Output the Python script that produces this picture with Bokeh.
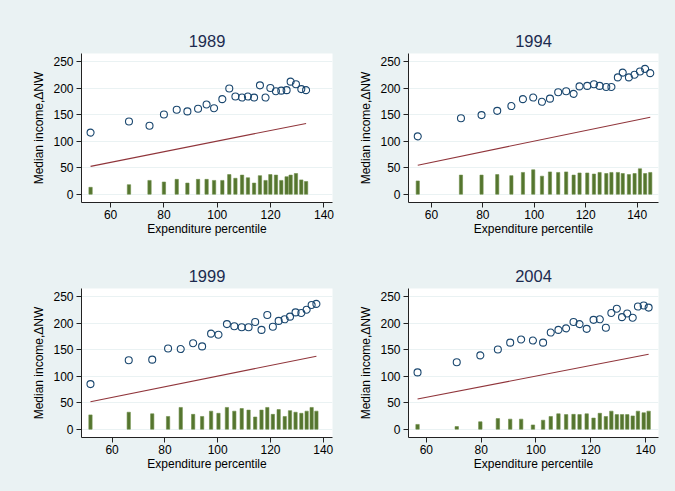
from bokeh.plotting import figure
from bokeh.layouts import gridplot
from bokeh.models import Range1d, FixedTicker
from bokeh.embed import file_html
from bokeh.resources import INLINE

# ---- data ----
years = ["1989", "1994", "1999", "2004"]

pct_1989 = [52.5, 66.9, 74.6, 80.0, 84.8, 88.8, 92.8, 96.0, 98.8, 101.9, 104.5, 106.8, 109.3,
            111.5, 113.8, 116.0, 118.1, 119.9, 122.0, 124.0, 126.0, 127.5, 129.5, 131.5, 133.3]
inc_1989 = [116, 137, 129, 150, 159, 156, 161, 169, 162, 179, 199, 184, 182,
            184, 182, 205, 182, 200, 194, 195, 196, 212, 207, 198, 196]
dnw_1989 = [13, 18, 26, 23, 28, 21, 28, 28, 26, 26, 37, 30, 36,
            31, 21, 35, 26, 37, 36, 26, 33, 36, 39, 27, 24]

pct_1994 = [54.7, 71.5, 79.5, 85.6, 91.1, 95.6, 99.6, 103.0, 106.1, 109.3, 112.4, 115.3, 117.6,
            120.6, 123.2, 125.4, 128.0, 130.0, 132.5, 134.4, 136.8, 139.0, 141.1, 143.1, 145.1]
inc_1994 = [109, 143, 149, 157, 166, 179, 182, 174, 180, 192, 194, 189, 203,
            204, 207, 204, 202, 202, 220, 229, 220, 225, 231, 236, 228]
dnw_1994 = [25, 36, 36, 37, 35, 41, 46, 34, 42, 41, 42, 36, 40,
            40, 38, 41, 39, 41, 41, 39, 37, 39, 48, 39, 41]

pct_1999 = [51.8, 66.3, 75.2, 81.2, 86.0, 90.7, 94.1, 97.5, 100.3, 103.5, 106.3, 109.1, 111.7,
            114.2, 116.6, 118.8, 120.9, 123.1, 125.4, 127.4, 129.5, 131.7, 133.7, 135.6, 137.4]
inc_1999 = [85, 130, 131, 152, 151, 162, 156, 180, 178, 198, 194, 192, 192,
            202, 187, 215, 193, 204, 207, 212, 220, 219, 225, 234, 236]
dnw_1999 = [27, 32, 29, 24, 41, 28, 24, 34, 30, 41, 34, 39, 36,
            23, 36, 41, 28, 37, 24, 35, 32, 30, 34, 41, 34]

pct_2004 = [56.8, 71.1, 79.7, 86.1, 90.6, 94.6, 98.9, 102.6, 105.4, 108.2, 111.0, 113.7, 115.9,
            118.5, 121.0, 123.3, 125.5, 127.5, 129.5, 131.4, 133.3, 135.3, 137.2, 139.3, 141.1]
inc_2004 = [107, 126, 139, 150, 163, 169, 167, 163, 182, 187, 190, 202, 198,
            189, 206, 207, 191, 219, 227, 211, 218, 210, 231, 233, 229]
dnw_2004 = [9, 5, 14, 20, 19, 19, 8, 17, 24, 29, 27.5, 28, 27.5,
            29, 21, 30, 24, 34, 27.5, 27.5, 27.5, 25, 34, 31, 34]

x_ticks = [60, 80, 100, 120, 140]
y_ticks = [0, 50, 100, 150, 200, 250]

# ---- style ----
BG = "#eaf2f3"
NAVY = "#1a476f"
MAROON = "#90353b"
GREEN = "#55752f"
TITLE = "#1c2b4f"
FONT = "Liberation Sans"

series = [
    (pct_1989, inc_1989, dnw_1989, (49.1, 143.2)),
    (pct_1994, inc_1994, dnw_1994, (51.1, 148.3)),
    (pct_1999, inc_1999, dnw_1999, (48.4, 143.5)),
    (pct_2004, inc_2004, dnw_2004, (53.5, 144.7)),
]
# per panel: width, height, left, right, top, bottom borders
geom = [
    (341, 250, 81, 9, 53, 48),
    (334, 250, 67, 17, 53, 48),
    (341, 241, 81, 9, 38, 54),
    (334, 241, 67, 17, 38, 54),
]

plots = []
for yr, (px, inc, dnw, xr), (w, h, bl, br, bt, bb) in zip(years, series, geom):
    p = figure(width=w, height=h, output_backend="svg", toolbar_location=None,
               x_range=Range1d(*xr), y_range=Range1d(-15.6, 265),
               min_border_left=bl, min_border_right=br,
               min_border_top=bt, min_border_bottom=bb)
    p.title.text = yr
    p.title.align = "center"
    p.title.text_font = FONT
    p.title.text_font_size = "16.5px"
    p.title.text_font_style = "normal"
    p.title.text_color = TITLE
    p.title.standoff = 13
    p.border_fill_color = BG
    p.background_fill_color = "white"
    p.outline_line_color = None

    p.vbar(x=px, top=dnw, bottom=0, width=1.25, fill_color=GREEN, line_color="#6f8f4a",
           line_width=0.6)
    lo, hi = min(px), max(px)
    p.line(x=[lo, hi], y=[lo, hi], line_color=MAROON, line_width=1.1)
    p.scatter(x=px, y=inc, marker="circle", size=7, fill_color=None,
              line_color=NAVY, line_width=1.1)

    p.xaxis.ticker = FixedTicker(ticks=x_ticks)
    p.yaxis.ticker = FixedTicker(ticks=y_ticks)
    p.xaxis.axis_label = "Expenditure percentile"
    p.yaxis.axis_label = "Median income,\u0394NW"
    for ax in (p.xaxis, p.yaxis):
        ax.axis_label_text_font = FONT
        ax.axis_label_text_font_size = "12px"
        ax.axis_label_text_font_style = "normal"
        ax.axis_label_text_color = "black"
        ax.major_label_text_font = FONT
        ax.major_label_text_font_size = "12px"
        ax.major_label_text_color = "black"
        ax.minor_tick_line_color = None
        ax.major_tick_in = 0
        ax.major_tick_out = 5
        ax.major_tick_line_color = "#222222"
        ax.axis_line_color = "#222222"
    p.xaxis.major_label_standoff = 2
    p.yaxis.major_label_standoff = 3
    p.xaxis.axis_label_standoff = 0
    p.yaxis.axis_label_standoff = 4
    p.xgrid.grid_line_color = None
    p.ygrid.grid_line_color = BG
    p.ygrid.grid_line_width = 1
    plots.append(p)

grid = gridplot([[plots[0], plots[1]], [plots[2], plots[3]]], toolbar_location=None)
grid.styles = {"background-color": BG}

open("out.html", "w").write(file_html(grid, INLINE))
